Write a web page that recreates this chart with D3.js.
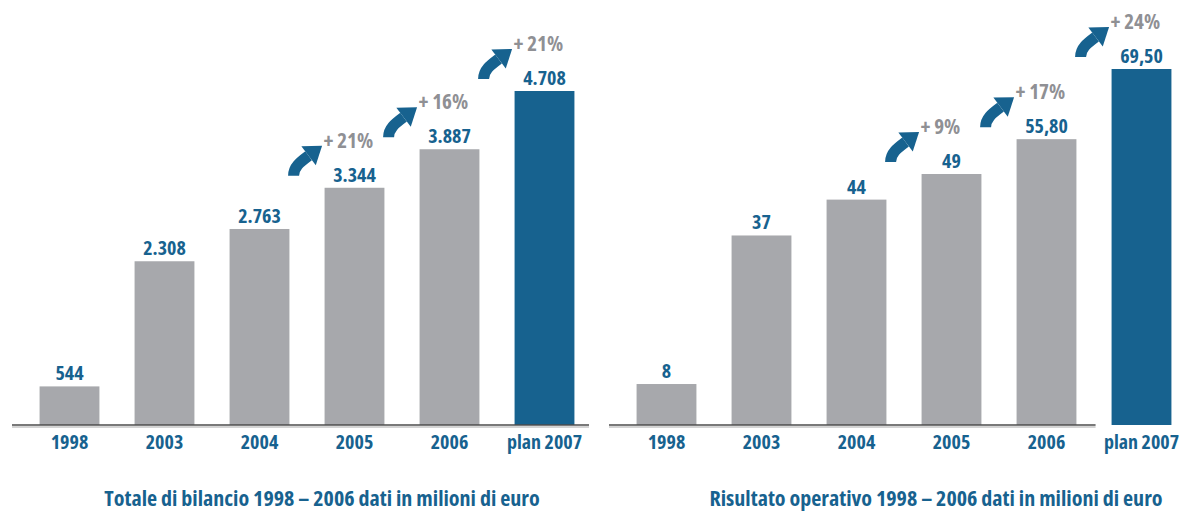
<!DOCTYPE html>
<html>
<head>
<meta charset="utf-8">
<script src="https://cdn.jsdelivr.net/npm/d3@7"></script>
<style>
  body { margin: 0; background: #fff; }
  text { font-family: "Open Sans", sans-serif; font-stretch: 75%; font-weight: bold; }
</style>
</head>
<body>
<div id="chart"></div>
<script>
// data
var categories = ['1998', '2003', '2004', '2005', '2006', 'plan 2007'];
var totaleValues = [544, 2308, 2763, 3344, 3887, 4708];
var totaleLabels = ['544', '2.308', '2.763', '3.344', '3.887', '4.708'];
var totaleGrowth = [null, null, null, '+ 21%', '+ 16%', '+ 21%'];
var risultatoValues = [8, 37, 44, 49, 55.8, 69.5];
var risultatoLabels = ['8', '37', '44', '49', '55,80', '69,50'];
var risultatoGrowth = [null, null, null, '+ 9%', '+ 17%', '+ 24%'];
var titles = ['Totale di bilancio 1998 \u2013 2006 dati in milioni di euro',
              'Risultato operativo 1998 \u2013 2006 dati in milioni di euro'];

var width = 1187, height = 513;
var grey = '#a7a8ac', blue = '#17628f', pctGrey = '#8f9094';
var baseY = 425;

var svg = d3.select('#chart').append('svg')
  .attr('width', width)
  .attr('height', height);

function drawPanel(values, labels, growth, title, x0, x1, topPx, axisStop, titleShift) {
  var g = svg.append('g');

  var xScale = d3.scaleBand()
    .domain(categories)
    .range([x0, x1])
    .paddingInner(0.37)
    .paddingOuter(0.185);

  var yScale = d3.scaleLinear()
    .domain([0, d3.max(values)])
    .range([baseY, topPx]);

  var rows = categories.map((c, i) => ({ cat: c, v: values[i], lab: labels[i], pct: growth[i], last: i == categories.length - 1 }));

  // bars
  g.selectAll('rect')
    .data(rows)
    .enter().append('rect')
    .attr('x', d => xScale(d.cat))
    .attr('width', xScale.bandwidth())
    .attr('y', d => yScale(d.v))
    .attr('height', d => baseY - yScale(d.v))
    .attr('fill', d => d.last ? blue : grey);

  // axis line (right panel stops before plan bar)
  var lineEnd = axisStop ? xScale('plan 2007') - 16 : x1 - 3;
  g.append('line')
    .attr('x1', x0 - 10).attr('x2', lineEnd)
    .attr('y1', baseY + 2).attr('y2', baseY + 2)
    .attr('stroke', '#d4d4d4').attr('stroke-width', 2);
  g.append('line')
    .attr('x1', x0 - 10).attr('x2', lineEnd)
    .attr('y1', baseY).attr('y2', baseY)
    .attr('stroke', '#4d4d4d').attr('stroke-width', 1.6);

  // tick labels
  var axis = g.append('g')
    .attr('transform', 'translate(0,' + baseY + ')')
    .call(d3.axisBottom(xScale).tickSize(0));
  axis.select('.domain').remove();
  axis.selectAll('text')
    .attr('y', 24)
    .attr('dy', null)
    .attr('fill', blue)
    .style('font-size', '20px')
    .style('font-family', '"Open Sans", sans-serif');

  // value labels
  g.selectAll('.val')
    .data(rows)
    .enter().append('text')
    .attr('class', 'val')
    .attr('x', d => xScale(d.cat) + xScale.bandwidth() / 2)
    .attr('y', d => yScale(d.v) - 6)
    .attr('text-anchor', 'middle')
    .attr('fill', blue)
    .style('font-size', '20px')
    .text(d => d.lab);

  // growth arrows + labels
  var gr = rows.filter(d => d.pct);
  var arrows = g.selectAll('.arr')
    .data(gr)
    .enter().append('g')
    .attr('class', 'arr')
    .attr('transform', d => 'translate(' + (xScale(d.cat) - 36) + ',' + (yScale(d.v) - 13) + ')');
  arrows.append('path')
    .attr('d', 'M5,1 C5,-8 12,-13 20,-19')
    .attr('fill', 'none')
    .attr('stroke', blue)
    .attr('stroke-width', 11);
  arrows.append('path')
    .attr('d', 'M12.8,-28.6 L33.5,-29 L27.2,-9.4 Z')
    .attr('fill', blue);

  g.selectAll('.pct')
    .data(gr)
    .enter().append('text')
    .attr('class', 'pct')
    .attr('x', d => xScale(d.cat) - 1)
    .attr('y', d => yScale(d.v) - 40)
    .attr('fill', pctGrey)
    .style('font-size', '21px')
    .text(d => d.pct);

  // title
  g.append('text')
    .attr('x', (x0 + x1) / 2 + titleShift)
    .attr('y', 506)
    .attr('text-anchor', 'middle')
    .attr('fill', blue)
    .style('font-size', '22px')
    .text(title);
}

drawPanel(totaleValues, totaleLabels, totaleGrowth, titles[0], 22, 592, 91, false, 15);
drawPanel(risultatoValues, risultatoLabels, risultatoGrowth, titles[1], 619, 1189, 69, true, 32);
</script>
</body>
</html>
